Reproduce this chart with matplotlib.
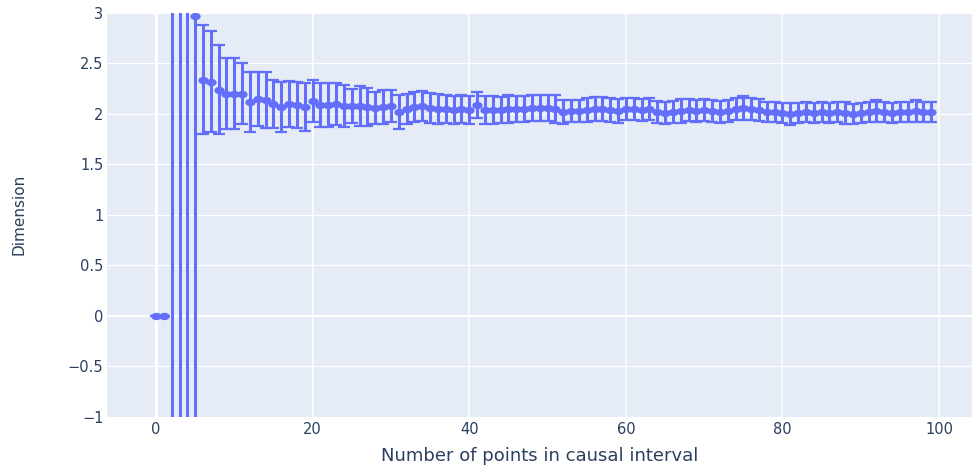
import numpy as np
import matplotlib.pyplot as plt
from matplotlib.path import Path
from matplotlib.transforms import Affine2D

# points in the causal interval and the estimated dimension with its spread
n_points = np.arange(100)
dimension = [
    0.00, 0.00, 3.90, -1.80, 4.60, 2.97, 2.34, 2.32, 2.24, 2.20,
    2.20, 2.20, 2.12, 2.15, 2.14, 2.10, 2.07, 2.10, 2.09, 2.07,
    2.13, 2.09, 2.09, 2.10, 2.08, 2.08, 2.08, 2.07, 2.06, 2.07,
    2.08, 2.02, 2.05, 2.07, 2.08, 2.06, 2.05, 2.05, 2.04, 2.05,
    2.04, 2.09, 2.04, 2.04, 2.04, 2.05, 2.05, 2.05, 2.06, 2.06,
    2.06, 2.05, 2.02, 2.03, 2.03, 2.04, 2.05, 2.05, 2.04, 2.03,
    2.05, 2.05, 2.04, 2.05, 2.02, 2.01, 2.02, 2.03, 2.04, 2.03,
    2.04, 2.03, 2.02, 2.03, 2.05, 2.06, 2.05, 2.04, 2.02, 2.02,
    2.01, 2.00, 2.01, 2.02, 2.01, 2.02, 2.01, 2.02, 2.01, 2.00,
    2.01, 2.02, 2.03, 2.02, 2.01, 2.02, 2.02, 2.03, 2.02, 2.02]
spread = [
    0.00, 0.00, 9.00, 7.00, 6.50, 4.50, 0.54, 0.50, 0.44, 0.35,
    0.35, 0.30, 0.30, 0.27, 0.28, 0.24, 0.25, 0.23, 0.23, 0.24,
    0.21, 0.22, 0.22, 0.21, 0.21, 0.17, 0.20, 0.19, 0.16, 0.17,
    0.16, 0.17, 0.15, 0.15, 0.15, 0.15, 0.15, 0.14, 0.14, 0.14,
    0.14, 0.13, 0.14, 0.14, 0.13, 0.14, 0.13, 0.13, 0.13, 0.13,
    0.13, 0.14, 0.12, 0.11, 0.11, 0.12, 0.12, 0.12, 0.12, 0.12,
    0.11, 0.11, 0.11, 0.11, 0.11, 0.11, 0.11, 0.12, 0.11, 0.11,
    0.11, 0.11, 0.11, 0.11, 0.11, 0.12, 0.11, 0.11, 0.10, 0.10,
    0.10, 0.11, 0.10, 0.10, 0.10, 0.10, 0.10, 0.10, 0.11, 0.10,
    0.10, 0.10, 0.11, 0.10, 0.10, 0.10, 0.10, 0.11, 0.10, 0.10]

yticks = [-1, -0.5, 0, 0.5, 1, 1.5, 2, 2.5, 3]
ytick_labels = ['\u22121', '\u22120.5', '0', '0.5', '1', '1.5', '2', '2.5', '3']
xticks = [0, 20, 40, 60, 80, 100]

blue = '#636EFA'
ink = '#2a3f5f'

# slightly wide oval marker
oval = Path.unit_circle().transformed(Affine2D().scale(1.4, 1.0))

fig = plt.figure(figsize=(9.72, 4.70), dpi=100)
ax = fig.add_axes([107/972, 1 - 416.7/470, 865/972, 403.7/470])
ax.set_facecolor('#E5ECF6')
for s in ax.spines.values():
    s.set_visible(False)

ax.set_xlim(-6.26, 104.2)
ax.set_ylim(-1, 3)
ax.set_xticks(xticks)
ax.set_yticks(yticks)
ax.set_yticklabels(ytick_labels)
ax.tick_params(length=0, labelsize=10.5, labelcolor=ink)
ax.tick_params(axis='y', pad=2.5)
ax.tick_params(axis='x', pad=3.5)

ax.set_axisbelow(True)
ax.xaxis.grid(True, color='white', lw=1.1)
ax.yaxis.grid(True, color='white', lw=0.8)
ax.axhline(0, color='white', lw=1.5, zorder=0.6)
ax.axvline(0, color='white', lw=2.2, zorder=0.6)

ax.errorbar(n_points, dimension, yerr=spread, fmt='none', ecolor=blue,
            elinewidth=2.2, capsize=4.4, capthick=1.6, zorder=2)
ax.plot(n_points, dimension, linestyle='none', marker=oval, markersize=7.4,
        color=blue, markeredgewidth=0, zorder=3)

ax.set_xlabel('Number of points in causal interval', fontsize=13, color=ink)
ax.xaxis.label.set_va('center')
ax.xaxis.set_label_coords(0.5, -0.0973)
ax.set_ylabel('Dimension', fontsize=11, color=ink)
ax.yaxis.label.set_va('center')
ax.yaxis.set_label_coords(-0.1023, 0.5)

fig.savefig('out.png', dpi=100)
